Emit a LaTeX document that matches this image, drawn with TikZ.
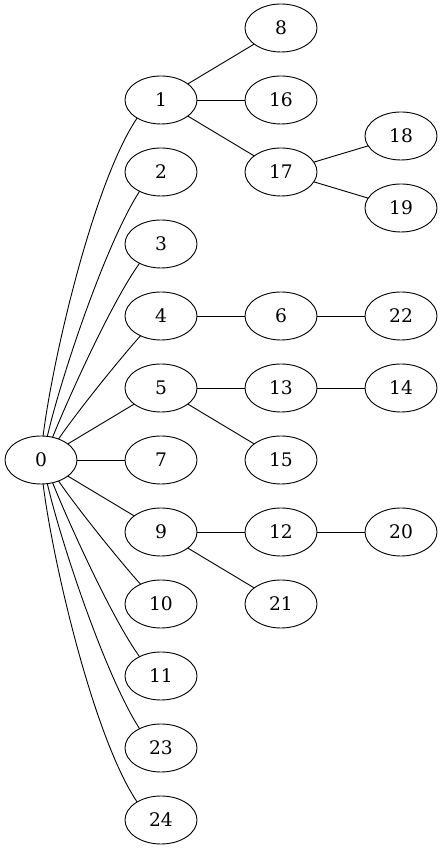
\documentclass[tikz,border=0pt]{standalone}
\usepackage{fontspec}
\setmainfont{DejaVu Serif}
\usetikzlibrary{positioning,shapes.geometric}

\begin{document}
\begin{tikzpicture}[x=1pt, y=1pt, node distance=24pt and 48pt,
   vert/.style={draw, ellipse, line width=0.9pt, minimum width=72pt, minimum height=48pt,
     inner sep=0pt, outer sep=0pt, font=\fontsize{18.67}{22}\selectfont},
   edge/.style={line width=0.9pt},
   fan/.style={edge, looseness=0.6}]
  \useasboundingbox (0,0) rectangle (443,851);
  % root
  \node[vert] (n0) at (41,391) {0};
  % first column
  \node[vert, right=of n0] (n7) {7};
  \node[vert, above=of n7] (n5) {5};
  \node[vert, above=of n5] (n4) {4};
  \node[vert, above=of n4] (n3) {3};
  \node[vert, above=of n3] (n2) {2};
  \node[vert, above=of n2] (n1) {1};
  \node[vert, below=of n7] (n9) {9};
  \node[vert, below=of n9] (n10) {10};
  \node[vert, below=of n10] (n11) {11};
  \node[vert, below=of n11] (n23) {23};
  \node[vert, below=of n23] (n24) {24};
  % second column
  \node[vert, right=of n1] (n16) {16};
  \node[vert, above=of n16] (n8) {8};
  \node[vert, right=of n2] (n17) {17};
  \node[vert, right=of n4] (n6) {6};
  \node[vert, right=of n5] (n13) {13};
  \node[vert, right=of n7] (n15) {15};
  \node[vert, right=of n9] (n12) {12};
  \node[vert, right=of n10] (n21) {21};
  % third column
  \node[vert, right=of n17, yshift=36pt] (n18) {18};
  \node[vert, right=of n17, yshift=-36pt] (n19) {19};
  \node[vert, right=of n6] (n22) {22};
  \node[vert, right=of n13] (n14) {14};
  \node[vert, right=of n12] (n20) {20};

  % fan out of the root
  \foreach \k/\a/\o/\i/\e in {1/85/83/236/217, 2/75/77/237/222, 3/63/68/234/222, 4/50/56/228/224}
    \draw[fan] (n0.\a) to[out=\o, in=\i] (n\k.\e);
  \foreach \k/\a/\o/\i/\e in {24/-85/-83/124/143, 23/-75/-77/123/138, 11/-63/-68/126/138, 10/-50/-56/132/136}
    \draw[fan] (n0.\a) to[out=\o, in=\i] (n\k.\e);
  \draw[edge] (n0)--(n5);
  \draw[edge] (n0)--(n7);
  \draw[edge] (n0)--(n9);

  % remaining edges
  \draw[edge] (n1)--(n8);
  \draw[edge] (n1)--(n16);
  \draw[edge] (n1)--(n17);
  \draw[edge] (n17)--(n18);
  \draw[edge] (n17)--(n19);
  \draw[edge] (n4)--(n6);
  \draw[edge] (n6)--(n22);
  \draw[edge] (n5)--(n13);
  \draw[edge] (n13)--(n14);
  \draw[edge] (n5)--(n15);
  \draw[edge] (n9)--(n12);
  \draw[edge] (n12)--(n20);
  \draw[edge] (n9)--(n21);
\end{tikzpicture}
\end{document}
